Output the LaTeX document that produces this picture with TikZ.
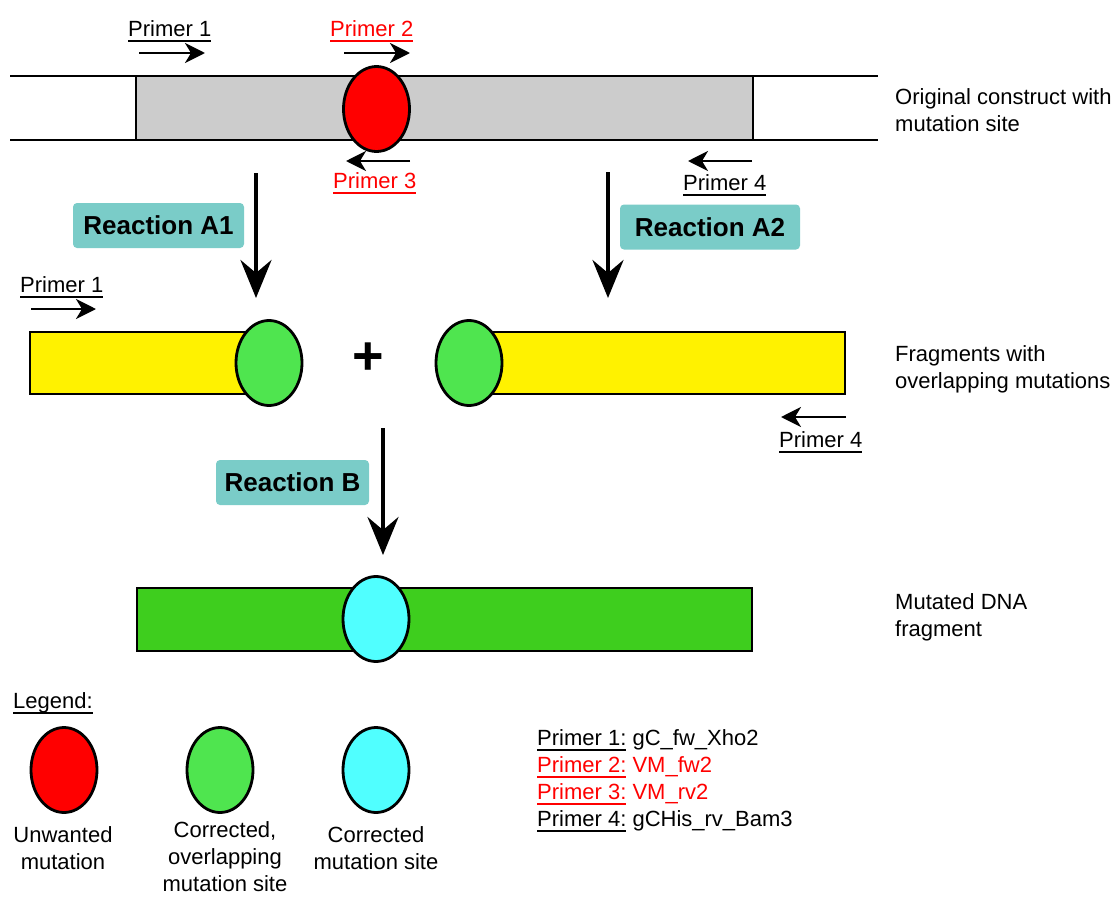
\documentclass[tikz,border=0pt]{standalone}
\usepackage{fontspec}
\setmainfont{Liberation Sans}
\usetikzlibrary{arrows.meta,shapes.geometric}
\definecolor{cgray}{HTML}{CCCCCC}
\definecolor{cred}{HTML}{FF0000}
\definecolor{cgreen}{HTML}{4FE54F}
\definecolor{cyellow}{HTML}{FFF200}
\definecolor{cdgreen}{HTML}{3ECE1E}
\definecolor{ccyan}{HTML}{50FFFF}
\definecolor{cteal}{HTML}{7ACCC8}
\newsavebox\ulbox
\newcommand\myul[1]{\sbox\ulbox{#1}\rlap{\rule[-5.5pt]{\wd\ulbox}{1.5pt}}\usebox\ulbox}
\tikzset{
  lbl/.style={font=\fontsize{22}{27}\selectfont, inner sep=0pt},
  rxn/.style={fill=cteal, rounded corners=4pt, font=\fontsize{26}{30}\selectfont\bfseries, minimum height=45pt, inner sep=0pt},
  bigarrow/.style={line width=4pt, -{Stealth[length=38pt,width=31pt,inset=13pt]}},
  primarrow/.style={line width=2.5pt, -{Stealth[length=20pt,width=20pt,inset=6pt]}},
  site/.style={ellipse, draw, line width=2.8pt, minimum width=66pt, minimum height=85pt, inner sep=0pt},
}
\begin{document}
\begin{tikzpicture}[x=1pt,y=-1pt]
\useasboundingbox (0,0) rectangle (1120,897);
\fill[white] (0,0) rectangle (1120,897);

% original construct
\fill[cgray] (136,76) rectangle (753,140);
\draw[line width=2.5pt] (10,76) -- (878,76);
\draw[line width=2.5pt] (10,140) -- (878,140);
\draw[line width=2pt] (136,76) -- (136,140);
\draw[line width=2pt] (753,76) -- (753,140);
\node[site, fill=cred] (m0) at (376.5,109) {};

% primers top
\node[lbl, anchor=base west] (p1t) at (128,36) {\myul{Primer 1}};
\draw[primarrow] (139,53) coordinate (p1a) -- (205,53) coordinate (p1b);
\node[lbl, anchor=base west, text=cred] (p2t) at (330,36) {\myul{Primer 2}};
\draw[primarrow] (344,53) coordinate (p2a) -- (410,53) coordinate (p2b);
\draw[primarrow] (410,161) coordinate (p3a) -- (346,161) coordinate (p3b);
\node[lbl, anchor=base west, text=cred] (p3t) at (333,188) {\myul{Primer 3}};
\draw[primarrow] (752,161) coordinate (p4a) -- (688,161) coordinate (p4b);
\node[lbl, anchor=base west] (p4t) at (683,190) {\myul{Primer 4}};

% reactions A
\coordinate (a1s) at (256,173); \coordinate (a1e) at (256,298);
\draw[bigarrow] (a1s) -- (a1e);
\coordinate (a2s) at (608,172); \coordinate (a2e) at (608,298);
\draw[bigarrow] (a2s) -- (a2e);
\node[rxn, minimum width=171pt] (ra1) at (158.5,225.5) {Reaction A1};
\node[rxn, minimum width=180pt] (ra2) at (710,227) {Reaction A2};

% fragments
\fill[cyellow] (30,332) rectangle (269,394);
\draw[line width=2.2pt] (269,332) -- (30,332) -- (30,394) -- (269,394);
\node[site, fill=cgreen] (g1) at (269,363) {};
\fill[cyellow] (469,332) rectangle (845,394);
\draw[line width=2.2pt] (469,332) -- (845,332) -- (845,394) -- (469,394);
\node[site, fill=cgreen] (g2) at (469,363) {};
\node[font=\fontsize{54}{54}\selectfont\bfseries, inner sep=0pt] (plus) at (368,359) {+};

\node[lbl, anchor=base west] (p1m) at (20,292) {\myul{Primer 1}};
\draw[primarrow] (31,309) coordinate (p1ma) -- (96,309) coordinate (p1mb);
\draw[primarrow] (846,417) coordinate (p4ma) -- (781,417) coordinate (p4mb);
\node[lbl, anchor=base west] (p4m) at (779,447) {\myul{Primer 4}};

% reaction B
\coordinate (bs) at (383,428); \coordinate (be) at (383,555);
\draw[bigarrow] (bs) -- (be);
\node[rxn, minimum width=153pt] (rb) at (292.5,482.5) {Reaction B};

% mutated fragment
\draw[line width=2.2pt, fill=cdgreen] (137,588) rectangle (752,651);
\node[site, fill=ccyan] (c1) at (376,619) {};

% right labels (anchor = baseline of last line)
\node[lbl, anchor=base west, align=left] (l1) at (895,131) {Original construct with\\mutation site};
\node[lbl, anchor=base west, align=left] (l2) at (895,388) {Fragments with\\overlapping mutations};
\node[lbl, anchor=base west, align=left] (l3) at (895,636) {Mutated DNA\\fragment};

% legend
\node[lbl, anchor=base west] (leg) at (13,708) {\myul{Legend:}};
\node[site, fill=cred] (e1) at (64,770) {};
\node[site, fill=cgreen] (e2) at (220,770) {};
\node[site, fill=ccyan] (e3) at (376,770) {};
\node[lbl, anchor=base, align=center] (t1) at (63,869) {Unwanted\\mutation};
\node[lbl, anchor=base, align=center] (t2) at (225,891) {Corrected,\\overlapping\\mutation site};
\node[lbl, anchor=base, align=center] (t3) at (376,869) {Corrected\\mutation site};

% primer list
\node[lbl, anchor=base west, align=left] (plist) at (537,826) {\myul{Primer 1:} gC\_fw\_Xho2\\
\textcolor{cred}{\myul{Primer 2:} VM\_fw2}\\
\textcolor{cred}{\myul{Primer 3:} VM\_rv2}\\
\myul{Primer 4:} gCHis\_rv\_Bam3};
\end{tikzpicture}
\end{document}
